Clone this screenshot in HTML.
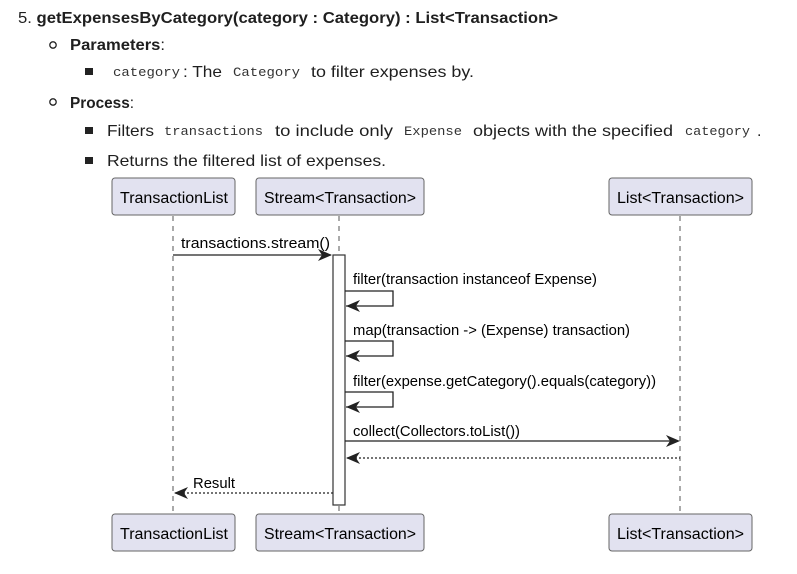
<!DOCTYPE html>
<html><head><meta charset="utf-8"><style>
html,body{margin:0;padding:0;background:#fff;width:797px;height:574px;overflow:hidden}
svg{display:block}
.t{font-family:"Liberation Sans",sans-serif;fill:#1f1f1f;font-size:16px}
.b{font-weight:bold}
.m{font-family:"Liberation Mono",monospace;font-size:13px;fill:#333}
.d{font-family:"Liberation Sans",sans-serif;font-size:15.5px;fill:#000}
.s{font-family:"Liberation Sans",sans-serif;font-size:14.5px;fill:#000}
</style></head><body>
<svg width="797" height="574" xmlns="http://www.w3.org/2000/svg">
<text class="t b" x="18" y="23" textLength="540" lengthAdjust="spacingAndGlyphs"><tspan font-weight="normal">5. </tspan>getExpensesByCategory(category : Category) : List&lt;Transaction&gt;</text>
<circle cx="53" cy="45" r="3.2" fill="none" stroke="#222" stroke-width="1.3"/>
<text class="t b" x="70" y="50" textLength="95" lengthAdjust="spacingAndGlyphs">Parameters<tspan font-weight="normal">:</tspan></text>
<rect x="85" y="68" width="8" height="7" fill="#222"/>
<text class="m" x="113" y="76" textLength="67" lengthAdjust="spacingAndGlyphs">category</text>
<text class="t" x="183" y="77" textLength="39" lengthAdjust="spacingAndGlyphs">: The</text>
<text class="m" x="233" y="76" textLength="67" lengthAdjust="spacingAndGlyphs">Category</text>
<text class="t" x="311" y="77" textLength="163" lengthAdjust="spacingAndGlyphs">to filter expenses by.</text>
<circle cx="53" cy="102" r="3.2" fill="none" stroke="#222" stroke-width="1.3"/>
<text class="t b" x="70" y="108" textLength="64" lengthAdjust="spacingAndGlyphs">Process<tspan font-weight="normal">:</tspan></text>
<rect x="85" y="127" width="8" height="7" fill="#222"/>
<text class="t" x="107" y="136" textLength="47" lengthAdjust="spacingAndGlyphs">Filters</text>
<text class="m" x="164" y="135" textLength="99" lengthAdjust="spacingAndGlyphs">transactions</text>
<text class="t" x="275" y="136" textLength="118" lengthAdjust="spacingAndGlyphs">to include only</text>
<text class="m" x="404" y="135" textLength="58" lengthAdjust="spacingAndGlyphs">Expense</text>
<text class="t" x="473" y="136" textLength="200" lengthAdjust="spacingAndGlyphs">objects with the specified</text>
<text class="m" x="685" y="135" textLength="65" lengthAdjust="spacingAndGlyphs">category</text>
<text class="t" x="757" y="136">.</text>
<rect x="85" y="157" width="8" height="7" fill="#222"/>
<text class="t" x="107" y="166" textLength="279" lengthAdjust="spacingAndGlyphs">Returns the filtered list of expenses.</text>

<g stroke="#555" stroke-width="1" stroke-dasharray="5,5">
<line x1="173" y1="216" x2="173" y2="513"/>
<line x1="339" y1="216" x2="339" y2="513"/>
<line x1="680" y1="216" x2="680" y2="513"/>
</g>
<g fill="#e2e2f0" stroke="#666" stroke-width="1">
<rect x="112" y="178" width="123" height="37" rx="3"/>
<rect x="256" y="178" width="168" height="37" rx="3"/>
<rect x="609" y="178" width="143" height="37" rx="3"/>
<rect x="112" y="514" width="123" height="37" rx="3"/>
<rect x="256" y="514" width="168" height="37" rx="3"/>
<rect x="609" y="514" width="143" height="37" rx="3"/>
</g>
<text class="d" x="120" y="203" textLength="108" lengthAdjust="spacingAndGlyphs">TransactionList</text>
<text class="d" x="264" y="203" textLength="152" lengthAdjust="spacingAndGlyphs">Stream&lt;Transaction&gt;</text>
<text class="d" x="617" y="203" textLength="127" lengthAdjust="spacingAndGlyphs">List&lt;Transaction&gt;</text>
<text class="d" x="120" y="539" textLength="108" lengthAdjust="spacingAndGlyphs">TransactionList</text>
<text class="d" x="264" y="539" textLength="152" lengthAdjust="spacingAndGlyphs">Stream&lt;Transaction&gt;</text>
<text class="d" x="617" y="539" textLength="127" lengthAdjust="spacingAndGlyphs">List&lt;Transaction&gt;</text>

<rect x="333" y="255" width="12" height="250" fill="#fff" stroke="#333" stroke-width="1.2"/>

<g stroke="#222" stroke-width="1.3" fill="none">
<line x1="173" y1="255" x2="331" y2="255"/>
<path d="M345 291 H393 V306 H346"/>
<path d="M345 341 H393 V356 H346"/>
<path d="M345 392 H393 V407 H346"/>
<line x1="345" y1="441" x2="678" y2="441"/>
<line x1="347" y1="458" x2="680" y2="458" stroke-dasharray="2,2"/>
<line x1="175" y1="493" x2="333" y2="493" stroke-dasharray="2,2"/>
</g>
<g fill="#222">
<path d="M332 255 L318 249 L322 255 L318 261Z"/>
<path d="M346 306 L360 300 L356 306 L360 312Z"/>
<path d="M346 356 L360 350 L356 356 L360 362Z"/>
<path d="M346 407 L360 401 L356 407 L360 413Z"/>
<path d="M680 441 L666 435 L670 441 L666 447Z"/>
<path d="M346 458 L360 452 L356 458 L360 464Z"/>
<path d="M174 493 L188 487 L184 493 L188 499Z"/>
</g>
<text class="s" x="181" y="248" textLength="149" lengthAdjust="spacingAndGlyphs">transactions.stream()</text>
<text class="s" x="353" y="284" textLength="244" lengthAdjust="spacingAndGlyphs">filter(transaction instanceof Expense)</text>
<text class="s" x="353" y="335" textLength="277" lengthAdjust="spacingAndGlyphs">map(transaction -&gt; (Expense) transaction)</text>
<text class="s" x="353" y="386" textLength="303" lengthAdjust="spacingAndGlyphs">filter(expense.getCategory().equals(category))</text>
<text class="s" x="353" y="436" textLength="167" lengthAdjust="spacingAndGlyphs">collect(Collectors.toList())</text>
<text class="s" x="193" y="488" textLength="42" lengthAdjust="spacingAndGlyphs">Result</text>
</svg>
</body></html>
